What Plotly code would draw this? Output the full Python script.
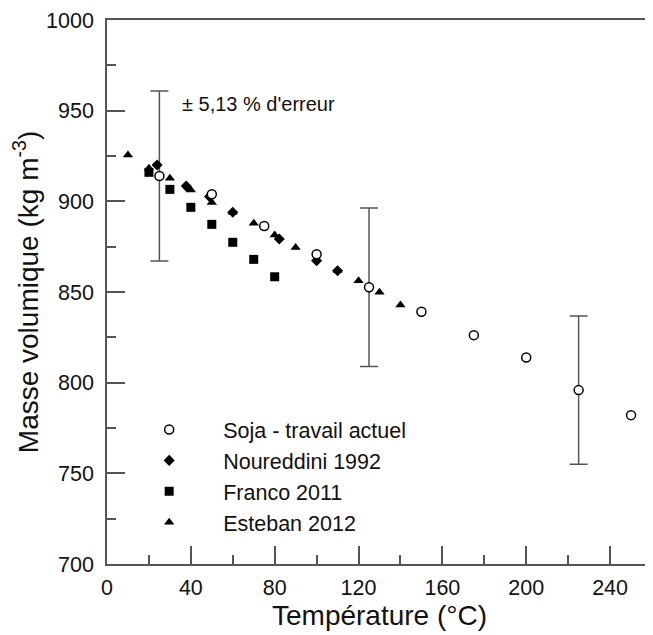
import plotly.graph_objects as go

# Soja - travail actuel
soja_t = [25, 50, 75, 100, 125, 150, 175, 200, 225, 250]
soja_rho = [914.0, 903.9, 886.4, 870.8, 852.6, 839.1, 826.2, 813.9, 795.9, 782.1]

# Noureddini 1992
nour_t = [23.9, 37.8, 48.9, 60.0, 82.2, 100.0, 110.0]
nour_rho = [920.0, 908.4, 902.6, 894.0, 879.2, 867.3, 861.7]

# Franco 2011
franco_t = [20, 30, 40, 50, 60, 70, 80]
franco_rho = [916.0, 906.6, 896.7, 887.3, 877.4, 868.0, 858.4]

# Esteban 2012
est_t = [10, 20, 30, 40, 50, 60, 70, 80, 90, 100, 110, 120, 130, 140]
est_rho = [925.5, 918.2, 912.7, 906.2, 899.4, 894.0, 887.9, 881.5, 874.6, 868.3, 862.0, 856.2, 849.8, 842.8]

# points carrying the error bar (5,13 %)
err_t = [25, 125, 225]
err_pct = 5.13

axis_col = '#555555'
font_name = 'Liberation Sans, Arial, sans-serif'

err_rho = [soja_rho[soja_t.index(t)] for t in err_t]

fig = go.Figure()

fig.add_trace(go.Scatter(x=err_t, y=err_rho, mode='markers',
                         marker=dict(size=1, opacity=0),
                         error_y=dict(type='percent', value=err_pct, color=axis_col,
                                      thickness=1.5, width=9),
                         showlegend=False, hoverinfo='skip'))

fig.add_trace(go.Scatter(x=est_t, y=est_rho, mode='markers', name='Esteban 2012',
                         marker=dict(symbol='triangle-up', size=9, color='black')))
fig.add_trace(go.Scatter(x=franco_t, y=franco_rho, mode='markers', name='Franco 2011',
                         marker=dict(symbol='square', size=9, color='black')))
fig.add_trace(go.Scatter(x=nour_t, y=nour_rho, mode='markers', name='Noureddini 1992',
                         marker=dict(symbol='diamond', size=8.5, color='black')))
fig.add_trace(go.Scatter(x=soja_t, y=soja_rho, mode='markers', name='Soja - travail actuel',
                         marker=dict(symbol='circle', size=9, color='white',
                                     line=dict(color='black', width=1.5))))

fig.add_annotation(text="± 5,13 % d'erreur", x=34.8, y=953.7, xref='x', yref='y',
                   xanchor='left', yanchor='middle', showarrow=False,
                   font=dict(size=20, color='#111111', family=font_name))

fig.update_xaxes(range=[0, 260], dtick=40, tick0=0, ticks='inside', ticklen=18,
                 tickwidth=1.5, tickcolor=axis_col, showline=True, linecolor=axis_col,
                 linewidth=1.5, mirror=True, showgrid=False, zeroline=False,
                 automargin=False,
                 minor=dict(dtick=20, ticks='inside', ticklen=9, tickwidth=1.5,
                            tickcolor=axis_col, showgrid=False),
                 tickfont=dict(size=21.5, color='#111111'), ticklabelstandoff=3,
                 title=dict(text='Température (°C)', font=dict(size=28, color='#111111'),
                            standoff=2))
fig.update_yaxes(range=[700, 1000], dtick=50, tick0=700, ticks='inside', ticklen=18,
                 tickwidth=1.5, tickcolor=axis_col, showline=True, linecolor=axis_col,
                 linewidth=1.5, mirror=True, showgrid=False, zeroline=False,
                 automargin=False,
                 minor=dict(dtick=25, ticks='inside', ticklen=9, tickwidth=1.5,
                            tickcolor=axis_col, showgrid=False),
                 tickfont=dict(size=21.5, color='#111111'), ticklabelstandoff=7,
                 title=dict(text='Masse volumique (kg m<sup>-3</sup>)',
                            font=dict(size=28, color='#111111'), standoff=0))

# page body adds an 8 px offset, so the figure is sized to fit inside the window
fig.update_layout(width=645, height=627, margin=dict(l=99, r=1, t=12, b=71),
                  paper_bgcolor='white', plot_bgcolor='white',
                  font=dict(family=font_name, color='#111111'),
                  legend=dict(x=0.015, y=0.285, xanchor='left', yanchor='top',
                              traceorder='reversed', itemwidth=98,
                              bgcolor='rgba(0,0,0,0)', font=dict(size=21.5)))

fig.write_html("out.html")
